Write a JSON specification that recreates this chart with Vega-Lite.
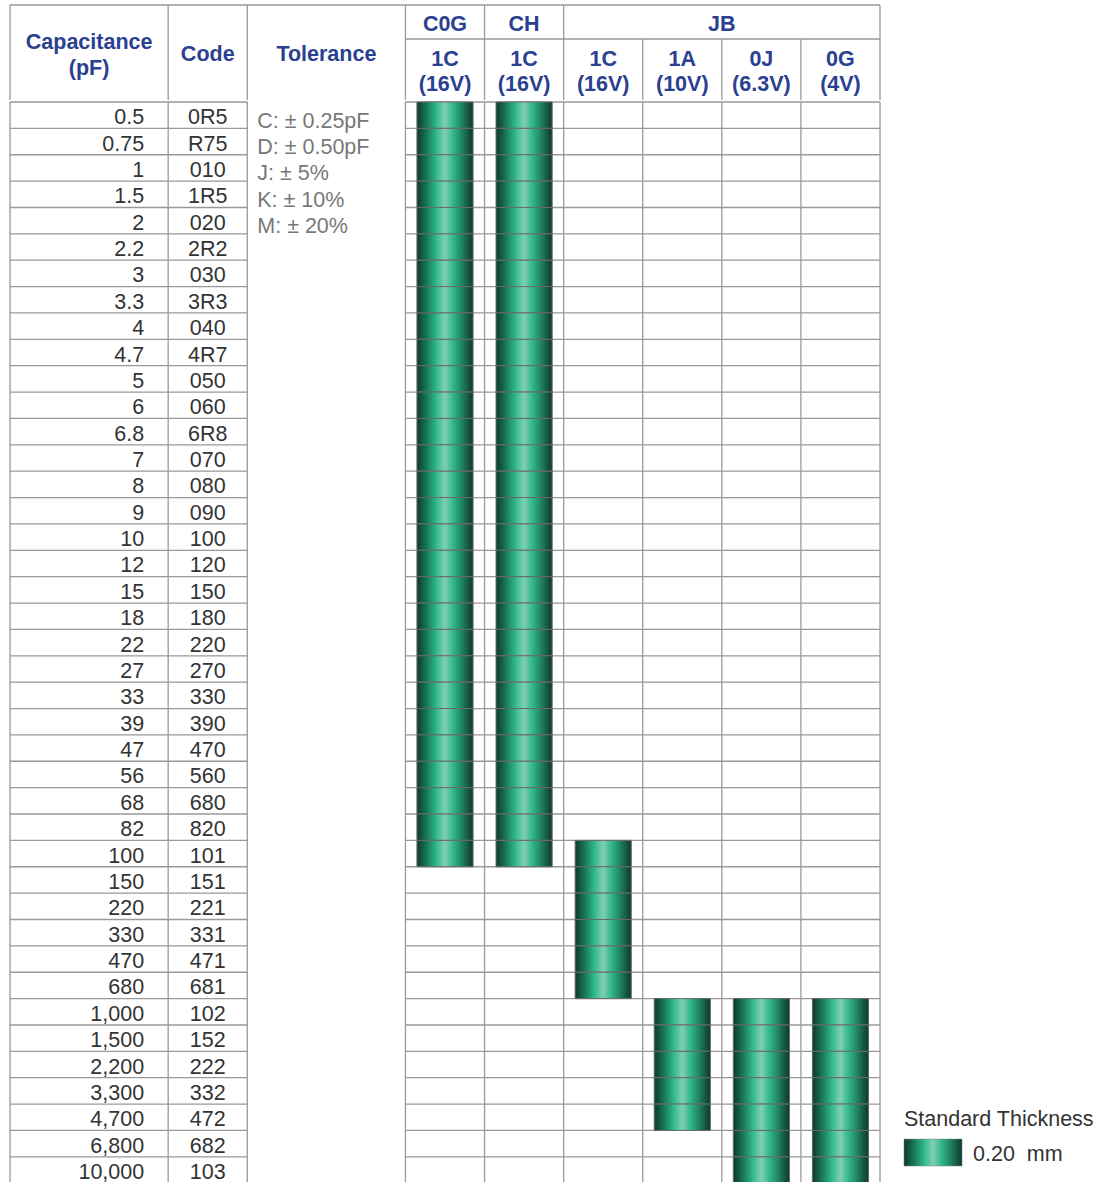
{
  "$schema": "https://vega.github.io/schema/vega-lite/v6.json",
  "background": "white",
  "padding": {"left": 9, "top": 4, "right": 0, "bottom": 0},
  "spacing": 0,
  "datasets": {
    "rows": [
      {"capacitance": "0.5", "code": "0R5", "C0G": "0.20", "CH": "0.20"},
      {"capacitance": "0.75", "code": "R75", "C0G": "0.20", "CH": "0.20"},
      {"capacitance": "1", "code": "010", "C0G": "0.20", "CH": "0.20"},
      {"capacitance": "1.5", "code": "1R5", "C0G": "0.20", "CH": "0.20"},
      {"capacitance": "2", "code": "020", "C0G": "0.20", "CH": "0.20"},
      {"capacitance": "2.2", "code": "2R2", "C0G": "0.20", "CH": "0.20"},
      {"capacitance": "3", "code": "030", "C0G": "0.20", "CH": "0.20"},
      {"capacitance": "3.3", "code": "3R3", "C0G": "0.20", "CH": "0.20"},
      {"capacitance": "4", "code": "040", "C0G": "0.20", "CH": "0.20"},
      {"capacitance": "4.7", "code": "4R7", "C0G": "0.20", "CH": "0.20"},
      {"capacitance": "5", "code": "050", "C0G": "0.20", "CH": "0.20"},
      {"capacitance": "6", "code": "060", "C0G": "0.20", "CH": "0.20"},
      {"capacitance": "6.8", "code": "6R8", "C0G": "0.20", "CH": "0.20"},
      {"capacitance": "7", "code": "070", "C0G": "0.20", "CH": "0.20"},
      {"capacitance": "8", "code": "080", "C0G": "0.20", "CH": "0.20"},
      {"capacitance": "9", "code": "090", "C0G": "0.20", "CH": "0.20"},
      {"capacitance": "10", "code": "100", "C0G": "0.20", "CH": "0.20"},
      {"capacitance": "12", "code": "120", "C0G": "0.20", "CH": "0.20"},
      {"capacitance": "15", "code": "150", "C0G": "0.20", "CH": "0.20"},
      {"capacitance": "18", "code": "180", "C0G": "0.20", "CH": "0.20"},
      {"capacitance": "22", "code": "220", "C0G": "0.20", "CH": "0.20"},
      {"capacitance": "27", "code": "270", "C0G": "0.20", "CH": "0.20"},
      {"capacitance": "33", "code": "330", "C0G": "0.20", "CH": "0.20"},
      {"capacitance": "39", "code": "390", "C0G": "0.20", "CH": "0.20"},
      {"capacitance": "47", "code": "470", "C0G": "0.20", "CH": "0.20"},
      {"capacitance": "56", "code": "560", "C0G": "0.20", "CH": "0.20"},
      {"capacitance": "68", "code": "680", "C0G": "0.20", "CH": "0.20"},
      {"capacitance": "82", "code": "820", "C0G": "0.20", "CH": "0.20"},
      {"capacitance": "100", "code": "101", "C0G": "0.20", "CH": "0.20", "JB1C": "0.20"},
      {"capacitance": "150", "code": "151", "JB1C": "0.20"},
      {"capacitance": "220", "code": "221", "JB1C": "0.20"},
      {"capacitance": "330", "code": "331", "JB1C": "0.20"},
      {"capacitance": "470", "code": "471", "JB1C": "0.20"},
      {"capacitance": "680", "code": "681", "JB1C": "0.20"},
      {"capacitance": "1,000", "code": "102", "1A": "0.20", "0J": "0.20", "0G": "0.20"},
      {"capacitance": "1,500", "code": "152", "1A": "0.20", "0J": "0.20", "0G": "0.20"},
      {"capacitance": "2,200", "code": "222", "1A": "0.20", "0J": "0.20", "0G": "0.20"},
      {"capacitance": "3,300", "code": "332", "1A": "0.20", "0J": "0.20", "0G": "0.20"},
      {"capacitance": "4,700", "code": "472", "1A": "0.20", "0J": "0.20", "0G": "0.20"},
      {"capacitance": "6,800", "code": "682", "0J": "0.20", "0G": "0.20"},
      {"capacitance": "10,000", "code": "103", "0J": "0.20", "0G": "0.20"}
    ]
  },
  "vconcat": [
    {
      "width": 870,
      "height": 95,
      "data": {"values": [{}]},
      "layer": [
        {
          "data": {"values": [{"col": "cap_a"}, {"col": "code"}, {"col": "tol_a"}, {"col": "C0G"}, {"col": "CH"}, {"col": "JB1C"}]},
          "mark": {"type": "rule", "color": "#999999", "strokeWidth": 1.3},
          "encoding": {
            "x": {"field": "col", "type": "nominal", "bandPosition": 0, "scale": {"type": "band", "domain": ["cap_a","cap_b","code","tol_a","tol_b","C0G","CH","JB1C","1A","0J","0G"], "paddingInner": 0, "paddingOuter": 0}}
          }
        },
        {
          "mark": {"type": "rule", "color": "#999999", "strokeWidth": 1.3},
          "encoding": {
            "x": {"datum": "0G", "type": "nominal", "bandPosition": 1, "scale": {"type": "band", "domain": ["cap_a","cap_b","code","tol_a","tol_b","C0G","CH","JB1C","1A","0J","0G"], "paddingInner": 0, "paddingOuter": 0}}
          }
        },
        {
          "data": {"values": [{"col": "1A"}, {"col": "0J"}, {"col": "0G"}]},
          "mark": {"type": "rule", "color": "#999999", "strokeWidth": 1.3},
          "encoding": {
            "x": {"field": "col", "type": "nominal", "bandPosition": 0, "scale": {"type": "band", "domain": ["cap_a","cap_b","code","tol_a","tol_b","C0G","CH","JB1C","1A","0J","0G"], "paddingInner": 0, "paddingOuter": 0}},
            "y": {"datum": "group", "type": "nominal", "bandPosition": 0.716, "scale": {"type": "band", "domain": ["group", "rating"], "paddingInner": 0, "paddingOuter": 0}},
            "y2": {"datum": "rating", "bandPosition": 1}
          }
        },
        {
          "mark": {"type": "rule", "color": "#999999", "strokeWidth": 1.3},
          "encoding": {
            "x": {"datum": "cap_a", "type": "nominal", "bandPosition": 0, "scale": {"type": "band", "domain": ["cap_a","cap_b","code","tol_a","tol_b","C0G","CH","JB1C","1A","0J","0G"], "paddingInner": 0, "paddingOuter": 0}},
            "x2": {"datum": "0G", "bandPosition": 1},
            "y": {"datum": "group", "type": "nominal", "bandPosition": 0, "scale": {"type": "band", "domain": ["group", "rating"], "paddingInner": 0, "paddingOuter": 0}}
          }
        },
        {
          "mark": {"type": "rule", "color": "#999999", "strokeWidth": 1.3},
          "encoding": {
            "x": {"datum": "C0G", "type": "nominal", "bandPosition": 0, "scale": {"type": "band", "domain": ["cap_a","cap_b","code","tol_a","tol_b","C0G","CH","JB1C","1A","0J","0G"], "paddingInner": 0, "paddingOuter": 0}},
            "x2": {"datum": "0G", "bandPosition": 1},
            "y": {"datum": "group", "type": "nominal", "bandPosition": 0.716, "scale": {"type": "band", "domain": ["group", "rating"], "paddingInner": 0, "paddingOuter": 0}}
          }
        },
        {
          "data": {"values": [{"header": "Capacitance\n(pF)"}]},
          "mark": {"type": "text", "align": "center", "baseline": "alphabetic", "lineBreak": "\n", "lineHeight": 26, "fontWeight": "bold", "color": "#2a4090"},
          "encoding": {
            "text": {"field": "header"},
            "x": {"datum": "cap_b", "type": "nominal", "bandPosition": 0, "scale": {"type": "band", "domain": ["cap_a","cap_b","code","tol_a","tol_b","C0G","CH","JB1C","1A","0J","0G"], "paddingInner": 0, "paddingOuter": 0}},
            "y": {"datum": "group", "type": "nominal", "bandPosition": 0.926, "scale": {"type": "band", "domain": ["group", "rating"], "paddingInner": 0, "paddingOuter": 0}}
          }
        },
        {
          "data": {"values": [{"header": "Code"}]},
          "mark": {"type": "text", "align": "center", "baseline": "alphabetic", "fontWeight": "bold", "color": "#2a4090"},
          "encoding": {
            "text": {"field": "header"},
            "x": {"datum": "code", "type": "nominal", "bandPosition": 0.5, "scale": {"type": "band", "domain": ["cap_a","cap_b","code","tol_a","tol_b","C0G","CH","JB1C","1A","0J","0G"], "paddingInner": 0, "paddingOuter": 0}},
            "y": {"datum": "rating", "type": "nominal", "bandPosition": 0.179, "scale": {"type": "band", "domain": ["group", "rating"], "paddingInner": 0, "paddingOuter": 0}}
          }
        },
        {
          "data": {"values": [{"header": "Tolerance"}]},
          "mark": {"type": "text", "align": "center", "baseline": "alphabetic", "fontWeight": "bold", "color": "#2a4090"},
          "encoding": {
            "text": {"field": "header"},
            "x": {"datum": "tol_b", "type": "nominal", "bandPosition": 0, "scale": {"type": "band", "domain": ["cap_a","cap_b","code","tol_a","tol_b","C0G","CH","JB1C","1A","0J","0G"], "paddingInner": 0, "paddingOuter": 0}},
            "y": {"datum": "rating", "type": "nominal", "bandPosition": 0.179, "scale": {"type": "band", "domain": ["group", "rating"], "paddingInner": 0, "paddingOuter": 0}}
          }
        },
        {
          "data": {"values": [{"series": "C0G", "dielectric": "C0G"}, {"series": "CH", "dielectric": "CH"}]},
          "mark": {"type": "text", "align": "center", "baseline": "alphabetic", "fontWeight": "bold", "color": "#2a4090"},
          "encoding": {
            "text": {"field": "dielectric"},
            "x": {"field": "series", "type": "nominal", "bandPosition": 0.5, "scale": {"type": "band", "domain": ["cap_a","cap_b","code","tol_a","tol_b","C0G","CH","JB1C","1A","0J","0G"], "paddingInner": 0, "paddingOuter": 0}},
            "y": {"datum": "group", "type": "nominal", "bandPosition": 0.554, "scale": {"type": "band", "domain": ["group", "rating"], "paddingInner": 0, "paddingOuter": 0}}
          }
        },
        {
          "data": {"values": [{"dielectric": "JB"}]},
          "mark": {"type": "text", "align": "center", "baseline": "alphabetic", "fontWeight": "bold", "color": "#2a4090"},
          "encoding": {
            "text": {"field": "dielectric"},
            "x": {"datum": "0J", "type": "nominal", "bandPosition": 0, "scale": {"type": "band", "domain": ["cap_a","cap_b","code","tol_a","tol_b","C0G","CH","JB1C","1A","0J","0G"], "paddingInner": 0, "paddingOuter": 0}},
            "y": {"datum": "group", "type": "nominal", "bandPosition": 0.554, "scale": {"type": "band", "domain": ["group", "rating"], "paddingInner": 0, "paddingOuter": 0}}
          }
        },
        {
          "data": {"values": [
            {"series": "C0G", "rating": "1C\n(16V)"},
            {"series": "CH", "rating": "1C\n(16V)"},
            {"series": "JB1C", "rating": "1C\n(16V)"},
            {"series": "1A", "rating": "1A\n(10V)"},
            {"series": "0J", "rating": "0J\n(6.3V)"},
            {"series": "0G", "rating": "0G\n(4V)"}
          ]},
          "mark": {"type": "text", "align": "center", "baseline": "alphabetic", "lineBreak": "\n", "lineHeight": 25.5, "fontWeight": "bold", "color": "#2a4090"},
          "encoding": {
            "text": {"field": "rating"},
            "x": {"field": "series", "type": "nominal", "bandPosition": 0.5, "scale": {"type": "band", "domain": ["cap_a","cap_b","code","tol_a","tol_b","C0G","CH","JB1C","1A","0J","0G"], "paddingInner": 0, "paddingOuter": 0}},
            "y": {"datum": "rating", "type": "nominal", "bandPosition": 0.278, "scale": {"type": "band", "domain": ["group", "rating"], "paddingInner": 0, "paddingOuter": 0}}
          }
        }
      ]
    },
    {
      "width": 1028.2,
      "height": 1081.2,
      "data": {"name": "rows"},
      "layer": [
        {
          "data": {"values": [{"col": "cap_a"}, {"col": "code"}, {"col": "tol_a"}, {"col": "C0G"}, {"col": "CH"}, {"col": "JB1C"}, {"col": "1A"}, {"col": "0J"}, {"col": "0G"}, {"col": "L1"}]},
          "mark": {"type": "rule", "color": "#999999", "strokeWidth": 1.3},
          "encoding": {
            "x": {"field": "col", "type": "nominal", "bandPosition": 0, "scale": {"type": "band", "domain": ["cap_a","cap_b","code","tol_a","tol_b","C0G","CH","JB1C","1A","0J","0G","L1","L2"], "paddingInner": 0, "paddingOuter": 0}}
          }
        },
        {
          "mark": {"type": "rule", "color": "#999999", "strokeWidth": 1.3},
          "encoding": {
            "y": {"field": "capacitance", "type": "nominal", "bandPosition": 0, "scale": {"type": "band", "domain": ["0.5","0.75","1","1.5","2","2.2","3","3.3","4","4.7","5","6","6.8","7","8","9","10","12","15","18","22","27","33","39","47","56","68","82","100","150","220","330","470","680","1,000","1,500","2,200","3,300","4,700","6,800","10,000"], "paddingInner": 0, "paddingOuter": 0}},
            "x": {"datum": "cap_a", "type": "nominal", "bandPosition": 0, "scale": {"type": "band", "domain": ["cap_a","cap_b","code","tol_a","tol_b","C0G","CH","JB1C","1A","0J","0G","L1","L2"], "paddingInner": 0, "paddingOuter": 0}},
            "x2": {"datum": "tol_a", "bandPosition": 0}
          }
        },
        {
          "mark": {"type": "rule", "color": "#999999", "strokeWidth": 1.3},
          "encoding": {
            "y": {"field": "capacitance", "type": "nominal", "bandPosition": 0, "scale": {"type": "band", "domain": ["0.5","0.75","1","1.5","2","2.2","3","3.3","4","4.7","5","6","6.8","7","8","9","10","12","15","18","22","27","33","39","47","56","68","82","100","150","220","330","470","680","1,000","1,500","2,200","3,300","4,700","6,800","10,000"], "paddingInner": 0, "paddingOuter": 0}},
            "x": {"datum": "C0G", "type": "nominal", "bandPosition": 0, "scale": {"type": "band", "domain": ["cap_a","cap_b","code","tol_a","tol_b","C0G","CH","JB1C","1A","0J","0G","L1","L2"], "paddingInner": 0, "paddingOuter": 0}},
            "x2": {"datum": "L1", "bandPosition": 0}
          }
        },
        {
          "transform": [
            {"fold": ["C0G", "CH", "JB1C", "1A", "0J", "0G"], "as": ["series", "thickness"]},
            {"filter": "isValid(datum.thickness)"}
          ],
          "mark": {
            "type": "bar",
            "width": {"band": 0.71},
            "stroke": "#6a6a6a",
            "strokeWidth": 1,
            "fill": {"gradient": "linear", "x1": 0, "y1": 0, "x2": 1, "y2": 0, "stops": [
              {"offset": 0, "color": "#0c3a2b"},
              {"offset": 0.12, "color": "#15634a"},
              {"offset": 0.25, "color": "#229471"},
              {"offset": 0.36, "color": "#35bd8f"},
              {"offset": 0.5, "color": "#83ceb2"},
              {"offset": 0.63, "color": "#36bb8e"},
              {"offset": 0.76, "color": "#239170"},
              {"offset": 0.9, "color": "#175c46"},
              {"offset": 1, "color": "#0d3a2c"}
            ]}
          },
          "encoding": {
            "x": {"field": "series", "type": "nominal", "scale": {"type": "band", "domain": ["cap_a","cap_b","code","tol_a","tol_b","C0G","CH","JB1C","1A","0J","0G","L1","L2"], "paddingInner": 0, "paddingOuter": 0}},
            "y": {"field": "capacitance", "type": "nominal", "scale": {"type": "band", "domain": ["0.5","0.75","1","1.5","2","2.2","3","3.3","4","4.7","5","6","6.8","7","8","9","10","12","15","18","22","27","33","39","47","56","68","82","100","150","220","330","470","680","1,000","1,500","2,200","3,300","4,700","6,800","10,000"], "paddingInner": 0, "paddingOuter": 0}}
          }
        },
        {
          "mark": {"type": "text", "align": "right", "baseline": "alphabetic", "dx": -24, "dy": 9, "color": "#333333"},
          "encoding": {
            "text": {"field": "capacitance"},
            "x": {"datum": "cap_b", "type": "nominal", "bandPosition": 1, "scale": {"type": "band", "domain": ["cap_a","cap_b","code","tol_a","tol_b","C0G","CH","JB1C","1A","0J","0G","L1","L2"], "paddingInner": 0, "paddingOuter": 0}},
            "y": {"field": "capacitance", "type": "nominal", "scale": {"type": "band", "domain": ["0.5","0.75","1","1.5","2","2.2","3","3.3","4","4.7","5","6","6.8","7","8","9","10","12","15","18","22","27","33","39","47","56","68","82","100","150","220","330","470","680","1,000","1,500","2,200","3,300","4,700","6,800","10,000"], "paddingInner": 0, "paddingOuter": 0}}
          }
        },
        {
          "mark": {"type": "text", "align": "center", "baseline": "alphabetic", "dy": 9, "color": "#333333"},
          "encoding": {
            "text": {"field": "code"},
            "x": {"datum": "code", "type": "nominal", "bandPosition": 0.5, "scale": {"type": "band", "domain": ["cap_a","cap_b","code","tol_a","tol_b","C0G","CH","JB1C","1A","0J","0G","L1","L2"], "paddingInner": 0, "paddingOuter": 0}},
            "y": {"field": "capacitance", "type": "nominal", "scale": {"type": "band", "domain": ["0.5","0.75","1","1.5","2","2.2","3","3.3","4","4.7","5","6","6.8","7","8","9","10","12","15","18","22","27","33","39","47","56","68","82","100","150","220","330","470","680","1,000","1,500","2,200","3,300","4,700","6,800","10,000"], "paddingInner": 0, "paddingOuter": 0}}
          }
        },
        {
          "data": {"values": [{"tolerance": "C: ± 0.25pF\nD: ± 0.50pF\nJ: ± 5%\nK: ± 10%\nM: ± 20%"}]},
          "mark": {"type": "text", "align": "left", "baseline": "alphabetic", "dx": 10, "dy": 12.5, "lineBreak": "\n", "lineHeight": 26.4, "color": "#777777"},
          "encoding": {
            "text": {"field": "tolerance"},
            "x": {"datum": "tol_a", "type": "nominal", "bandPosition": 0, "scale": {"type": "band", "domain": ["cap_a","cap_b","code","tol_a","tol_b","C0G","CH","JB1C","1A","0J","0G","L1","L2"], "paddingInner": 0, "paddingOuter": 0}},
            "y": {"datum": "0.5", "type": "nominal", "scale": {"type": "band", "domain": ["0.5","0.75","1","1.5","2","2.2","3","3.3","4","4.7","5","6","6.8","7","8","9","10","12","15","18","22","27","33","39","47","56","68","82","100","150","220","330","470","680","1,000","1,500","2,200","3,300","4,700","6,800","10,000"], "paddingInner": 0, "paddingOuter": 0}}
          }
        },
        {
          "data": {"values": [{"legend": "Standard Thickness"}]},
          "mark": {"type": "text", "align": "left", "baseline": "alphabetic", "dy": 9, "color": "#333333"},
          "encoding": {
            "text": {"field": "legend"},
            "x": {"datum": "L1", "type": "nominal", "bandPosition": 0.303, "scale": {"type": "band", "domain": ["cap_a","cap_b","code","tol_a","tol_b","C0G","CH","JB1C","1A","0J","0G","L1","L2"], "paddingInner": 0, "paddingOuter": 0}},
            "y": {"datum": "4,700", "type": "nominal", "scale": {"type": "band", "domain": ["0.5","0.75","1","1.5","2","2.2","3","3.3","4","4.7","5","6","6.8","7","8","9","10","12","15","18","22","27","33","39","47","56","68","82","100","150","220","330","470","680","1,000","1,500","2,200","3,300","4,700","6,800","10,000"], "paddingInner": 0, "paddingOuter": 0}}
          }
        },
        {
          "data": {"values": [{"thickness": "0.20"}]},
          "mark": {
            "type": "rect",
            "stroke": "#888888",
            "strokeWidth": 0.5,
            "fill": {"gradient": "linear", "x1": 0, "y1": 0, "x2": 1, "y2": 0, "stops": [
              {"offset": 0, "color": "#0c3a2b"},
              {"offset": 0.12, "color": "#15634a"},
              {"offset": 0.25, "color": "#229471"},
              {"offset": 0.36, "color": "#35bd8f"},
              {"offset": 0.5, "color": "#83ceb2"},
              {"offset": 0.63, "color": "#36bb8e"},
              {"offset": 0.76, "color": "#239170"},
              {"offset": 0.9, "color": "#175c46"},
              {"offset": 1, "color": "#0d3a2c"}
            ]}
          },
          "encoding": {
            "x": {"datum": "L1", "type": "nominal", "bandPosition": 0.303, "scale": {"type": "band", "domain": ["cap_a","cap_b","code","tol_a","tol_b","C0G","CH","JB1C","1A","0J","0G","L1","L2"], "paddingInner": 0, "paddingOuter": 0}},
            "x2": {"datum": "L2", "bandPosition": 0.037},
            "y": {"datum": "6,800", "type": "nominal", "bandPosition": 0.326, "scale": {"type": "band", "domain": ["0.5","0.75","1","1.5","2","2.2","3","3.3","4","4.7","5","6","6.8","7","8","9","10","12","15","18","22","27","33","39","47","56","68","82","100","150","220","330","470","680","1,000","1,500","2,200","3,300","4,700","6,800","10,000"], "paddingInner": 0, "paddingOuter": 0}},
            "y2": {"datum": "10,000", "bandPosition": 0.35}
          }
        },
        {
          "data": {"values": [{"label": "0.20\u00a0 mm"}]},
          "mark": {"type": "text", "align": "left", "baseline": "alphabetic", "color": "#333333"},
          "encoding": {
            "text": {"field": "label"},
            "x": {"datum": "L2", "type": "nominal", "bandPosition": 0.176, "scale": {"type": "band", "domain": ["cap_a","cap_b","code","tol_a","tol_b","C0G","CH","JB1C","1A","0J","0G","L1","L2"], "paddingInner": 0, "paddingOuter": 0}},
            "y": {"datum": "10,000", "type": "nominal", "bandPosition": 0.16, "scale": {"type": "band", "domain": ["0.5","0.75","1","1.5","2","2.2","3","3.3","4","4.7","5","6","6.8","7","8","9","10","12","15","18","22","27","33","39","47","56","68","82","100","150","220","330","470","680","1,000","1,500","2,200","3,300","4,700","6,800","10,000"], "paddingInner": 0, "paddingOuter": 0}}
          }
        }
      ]
    }
  ],
  "resolve": {"scale": {"x": "independent", "y": "independent"}},
  "config": {
    "view": {"stroke": null},
    "axis": {"disable": true},
    "text": {"font": "Liberation Sans", "fontSize": 21.5}
  }
}
